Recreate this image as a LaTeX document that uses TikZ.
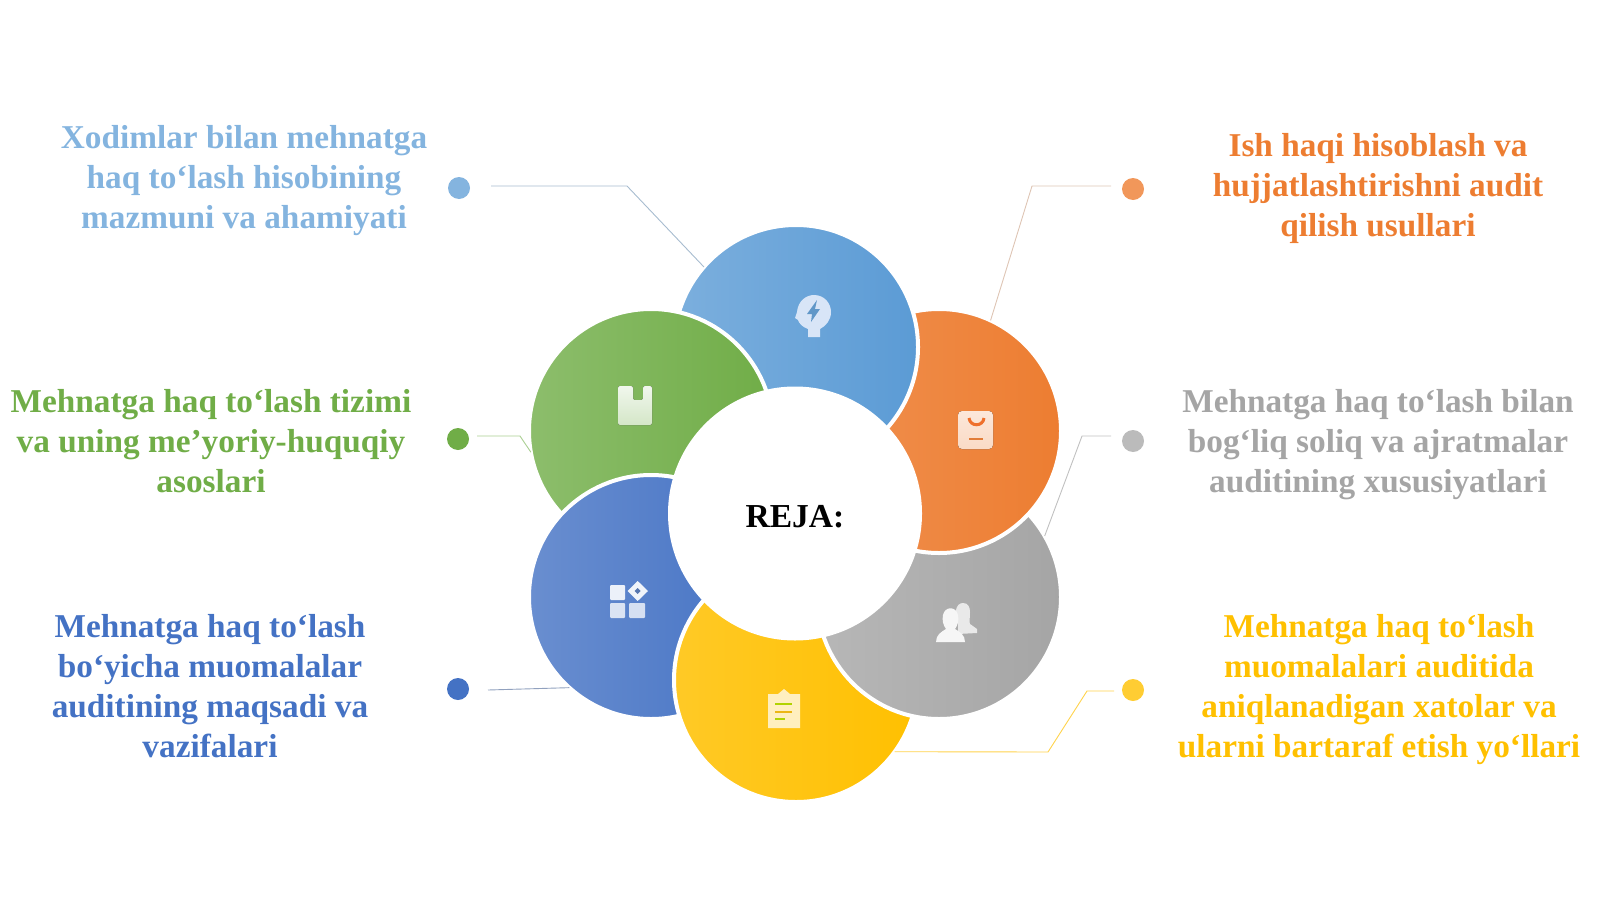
\documentclass[tikz,border=0pt]{standalone}
\usepackage{fontspec}
\setmainfont{Liberation Serif}
\definecolor{cblue}{HTML}{5B9BD5}
\definecolor{corange}{HTML}{ED7D31}
\definecolor{cgray}{HTML}{A5A5A5}
\definecolor{cyellow}{HTML}{FFC000}
\definecolor{cnavy}{HTML}{4472C4}
\definecolor{cgreen}{HTML}{70AD47}
\begin{document}
\begin{tikzpicture}[x=1pt,y=-1pt,align=center]
\tikzstyle{petal}=[circle,draw=white,line width=4pt,minimum size=244pt,inner sep=0pt,outer sep=0pt]
\tikzstyle{dot}=[circle,minimum size=22pt,inner sep=0pt]
\tikzstyle{caption}=[font=\fontsize{33.3}{40}\selectfont\bfseries]
\tikzstyle{leader}=[line width=0.9pt]
\useasboundingbox (0,0) rectangle (1600,899);

% dots
\node[dot,fill=cblue!75!white] (d0) at (459,188) {};
\node[dot,fill=corange!80!white] (d1) at (1133,189) {};
\node[dot,fill=cgray!75!white] (d2) at (1133,441) {};
\node[dot,fill=cyellow!80!white] (d3) at (1133,690) {};
\node[dot,fill=cnavy] (d4) at (458,689) {};
\node[dot,fill=cgreen] (d5) at (458,439) {};

% free ends and knees of the leaders
\coordinate (s0) at (491,186);
\coordinate (k0) at (627,186);
\coordinate (s1) at (1111,186);
\coordinate (k1) at (1032,186);
\coordinate (s2) at (1111,436);
\coordinate (k2) at (1082,436);
\coordinate (s3) at (1114,691);
\coordinate (k3a) at (1087,691);
\coordinate (k3b) at (1048,752);
\coordinate (s4) at (488,690);
\coordinate (s5) at (477,436);
\coordinate (k5) at (520,436);

% petals, each one over the next
\node[petal,left color=cgreen!80!white,right color=cgreen] (p5) at (651,431) {};
\node[petal,left color=cnavy!80!white,right color=cnavy] (p4) at (651,597) {};
\node[petal,left color=cyellow!85!white,right color=cyellow] (p3) at (796,680) {};
\node[petal,left color=cgray!80!white,right color=cgray] (p2) at (939,597) {};
\node[petal,left color=corange!85!white,right color=corange] (p1) at (939,431) {};
\node[petal,left color=cblue!80!white,right color=cblue] (p0) at (796,347) {};
\begin{scope}
\clip (600,250) rectangle (795,440);
\node[petal,left color=cgreen!80!white,right color=cgreen] (p5top) at (651,431) {};
\end{scope}
\node[circle,fill=white,minimum size=254pt,inner sep=0pt,text height=28pt,text depth=0pt,font=\fontsize{33.5}{40}\selectfont\bfseries] (reja) at (795,513.5) {REJA:};

\draw[leader,cblue!55!gray!60!white] (s0) -- (k0) -- (p0.139);
\draw[leader,corange!50!gray!45!white] (s1) -- (k1) -- (p1.65);
\draw[leader,cgray!70!white] (s2) -- (k2) -- (p2.30);
\draw[leader,cyellow!70!white] (s3) -- (k3a) -- (k3b) -- (p3.324.5);
\draw[leader,cnavy!50!gray!70!white] (s4) -- (p4.228);
\draw[leader,cgreen!60!white] (s5) -- (k5) -- (p5.190);

% icon: head with bolt
\fill[blue!12!cblue!22!white] (808,337) -- (808,329) .. controls (802,327) and (799,323) .. (798,320) -- (795,318) -- (797,312) .. controls (798,301) and (806,295) .. (814,295) .. controls (824,295) and (831,303) .. (831,312) .. controls (831,320) and (826,326) .. (820,329) -- (820,337) -- cycle;
\fill[cblue!85!gray] (817,300) -- (807,314) -- (812,314) -- (811,322) -- (820,309) -- (815,309) -- cycle;
% icon: book
\fill[rounded corners=2pt,top color=cgreen!10!white,bottom color=cgreen!30!white] (618,386) -- (633,386) -- (633,400) -- (643,400) -- (643,386) -- (652,386) -- (652,425) -- (618,425) -- cycle;
% icon: tag
\fill[rounded corners=4pt,top color=corange!18!white,bottom color=corange!28!white] (958,411) rectangle (993,449);
\draw[line width=3pt,corange!90!red] (969,418) .. controls (970,427) and (983,427) .. (984,418);
\draw[line width=2.5pt,corange!90!gray] (969,439) -- (983,439);
% icon: tiles
\fill[rounded corners=1pt,cnavy!10!white] (610,585) rectangle (625,600);
\fill[rounded corners=1pt,cnavy!20!white] (610,603) rectangle (625,618);
\fill[rounded corners=1pt,cnavy!22!white] (629,603) rectangle (645,618);
\fill[cnavy!8!white] (637.7,581) -- (648,591) -- (637.7,601) -- (627.5,591) -- cycle;
\fill[cnavy!70!gray] (637.7,588) -- (640.7,591) -- (637.7,594) -- (634.7,591) -- cycle;
% icon: people
\fill[white!75!cgray] (958,634) -- (958,624) -- (956,612) .. controls (956,605) and (960,603) .. (963,603) .. controls (968,603) and (970,607) .. (970,612) .. controls (970,618) and (969,622) .. (970,624) -- (977,629) -- (977,633) -- cycle;
\fill[white!90!cgray] (936,642) .. controls (936,635) and (941,632) .. (946,629) .. controls (943,625) and (942,620) .. (943,615) .. controls (945,606) and (956,606) .. (958,615) .. controls (959,620) and (958,625) .. (955,629) .. controls (960,632) and (965,635) .. (965,642) -- cycle;
% icon: clipboard
\fill[cyellow!25!white] (768,694) -- (778,694) -- (784,689) -- (790,694) -- (800,694) -- (800,728) -- (768,728) -- cycle;
\draw[line width=2.5pt,cyellow!70!green] (775,704) -- (792,704);
\draw[line width=2.5pt,cyellow!85!gray] (775,712) -- (792,712);
\draw[line width=2.5pt,cyellow!70!green] (775,719) -- (785,719);

% captions
\node[caption,text=cblue!75!white] (t0) at (244,180.5) {Xodimlar bilan mehnatga\\haq to‘lash hisobining\\mazmuni va ahamiyati};
\node[caption,text=corange] (t1) at (1378,188) {Ish haqi hisoblash va\\hujjatlashtirishni audit\\qilish usullari};
\node[caption,text=cgray] (t2) at (1378,444.5) {Mehnatga haq to‘lash bilan\\bog‘liq soliq va ajratmalar\\auditining xususiyatlari};
\node[caption,text=cyellow] (t3) at (1379,690) {Mehnatga haq to‘lash\\muomalalari auditida\\aniqlanadigan xatolar va\\ularni bartaraf etish yo‘llari};
\node[caption,text=cnavy] (t4) at (210,686) {Mehnatga haq to‘lash\\bo‘yicha muomalalar\\auditining maqsadi va\\vazifalari};
\node[caption,text=cgreen] (t5) at (211,441) {Mehnatga haq to‘lash tizimi\\va uning me’yoriy-huquqiy\\asoslari};
\end{tikzpicture}
\end{document}
